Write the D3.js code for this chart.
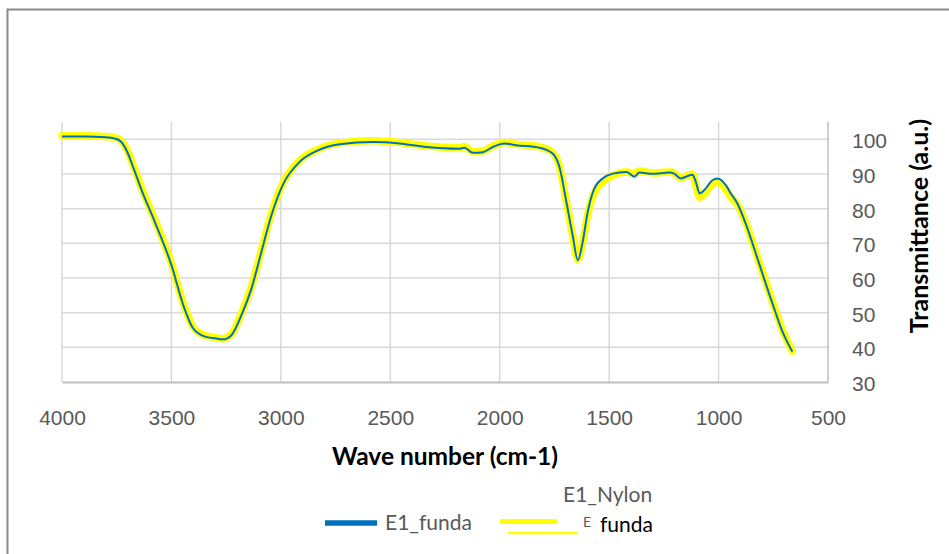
<!DOCTYPE html>
<html>
<head>
<meta charset="utf-8">
<script src="https://cdn.jsdelivr.net/npm/d3@7"></script>
<style>
  body { margin: 0; background: #fff; }
  svg { display: block; font-family: Lato, "Open Sans", sans-serif; }
</style>
</head>
<body>
<script>
// wavenumber (cm-1)
const waveNumbers = [4000, 3900, 3800, 3758, 3730, 3705, 3667, 3636, 3576, 3500, 3446, 3401, 3347, 3300, 3264, 3226, 3180, 3134, 3089, 3043, 2990, 2914, 2838, 2731, 2580, 2458, 2336, 2184, 2161, 2123, 2077, 2031, 1978, 1925, 1819, 1758, 1727, 1697, 1667, 1643, 1621, 1598, 1568, 1530, 1484, 1420, 1385, 1362, 1301, 1225, 1203, 1172, 1150, 1119, 1104, 1086, 1066, 1028, 1005, 967, 944, 914, 876, 815, 754, 708, 663];
const funda = [100.8, 100.8, 100.6, 100.2, 99.3, 96.8, 90.6, 85.3, 76.2, 63.7, 52.2, 45.5, 43.1, 42.6, 42.3, 43.5, 49.3, 57.0, 67.5, 78.1, 87.0, 93.5, 96.6, 98.6, 99.2, 98.8, 97.8, 97.3, 97.6, 96.1, 96.3, 97.8, 98.8, 98.3, 97.6, 95.9, 92.0, 82.5, 72.4, 65.1, 70.4, 79.0, 85.8, 88.7, 90.1, 90.6, 89.2, 90.4, 90.1, 90.4, 90.1, 88.7, 89.2, 89.8, 87.7, 84.4, 85.3, 88.2, 88.7, 86.8, 84.4, 81.5, 75.7, 64.2, 52.7, 44.5, 38.7];
const nylon = [101.0, 101.0, 100.8, 100.5, 99.6, 97.2, 91.2, 85.9, 76.8, 64.2, 52.7, 45.9, 43.4, 42.8, 42.5, 43.8, 49.8, 57.6, 68.0, 78.6, 87.4, 93.9, 96.9, 98.9, 99.6, 99.1, 98.1, 97.6, 97.9, 96.4, 96.6, 98.1, 99.1, 98.6, 97.9, 96.2, 92.2, 82.6, 72.4, 65.4, 70.2, 78.4, 84.6, 87.6, 89.6, 90.6, 90.1, 90.9, 90.3, 90.6, 90.3, 88.8, 89.4, 90.0, 86.8, 83.2, 84.2, 87.0, 87.6, 85.6, 83.3, 81.2, 76.0, 64.6, 53.2, 45.0, 38.9];
const xTicks = [4000, 3500, 3000, 2500, 2000, 1500, 1000, 500];
const yTicks = [30, 40, 50, 60, 70, 80, 90, 100];

const width = 949, height = 554;
const plot = { left: 62, right: 828, top: 122, bottom: 382 };

const svg = d3.select('body').append('svg')
  .attr('width', width)
  .attr('height', height);

// outer chart frame
svg.append('rect')
  .attr('x', 7.5).attr('y', 9.5)
  .attr('width', 960).attr('height', 560)
  .attr('fill', 'none')
  .attr('stroke', '#898989')
  .attr('stroke-width', 2);

const x = d3.scaleLinear().domain([4000, 500]).range([plot.left, plot.right]);
const y = d3.scaleLinear().domain([30, 105]).range([plot.bottom, plot.top]);

// gridlines
svg.append('g').selectAll('line')
  .data(yTicks.slice(1))
  .enter().append('line')
  .attr('x1', plot.left).attr('x2', plot.right)
  .attr('y1', d => y(d)).attr('y2', d => y(d))
  .style('stroke', '#d9d9d9').style('stroke-width', 1.5);
svg.append('g').selectAll('line')
  .data(xTicks.slice(1, -1))
  .enter().append('line')
  .attr('x1', d => x(d)).attr('x2', d => x(d))
  .attr('y1', plot.top).attr('y2', plot.bottom)
  .style('stroke', '#d9d9d9').style('stroke-width', 1.5);

// left & right frame lines of plot area
svg.append('line')
  .attr('x1', plot.left).attr('x2', plot.left)
  .attr('y1', plot.top).attr('y2', plot.bottom)
  .style('stroke', '#d9d9d9').style('stroke-width', 1.5);
svg.append('line')
  .attr('x1', plot.right).attr('x2', plot.right)
  .attr('y1', plot.top).attr('y2', plot.bottom)
  .style('stroke', '#bfbfbf').style('stroke-width', 1.5);

// bottom axis
const xAxis = svg.append('g')
  .attr('transform', `translate(0,${plot.bottom})`)
  .call(d3.axisBottom(x).tickValues(xTicks).tickSize(0).tickPadding(43).tickFormat(d3.format('d')));
xAxis.select('.domain').style('stroke', '#bfbfbf').style('stroke-width', 2);
xAxis.selectAll('text')
  .style('font-size', '21px').style('fill', '#595959').attr('dy', 0);

// right axis (labels only)
const yAxis = svg.append('g')
  .attr('transform', `translate(${plot.right},0)`)
  .call(d3.axisRight(y).tickValues(yTicks).tickSize(0).tickPadding(24));
yAxis.select('.domain').remove();
yAxis.selectAll('text')
  .style('font-size', '21px').style('fill', '#595959').attr('dy', '0.4em');

// axis titles
svg.append('text')
  .attr('x', 445).attr('y', 465)
  .attr('text-anchor', 'middle')
  .style('font-size', '24.5px').style('font-weight', 'bold').style('fill', '#000')
  .text('Wave number (cm-1)');
svg.append('text')
  .attr('transform', 'translate(928,226) rotate(-90)')
  .attr('text-anchor', 'middle')
  .style('font-size', '25px').style('font-weight', 'bold').style('fill', '#000')
  .text('Transmittance (a.u.)');

// series
const line = d3.line()
  .x((d, i) => x(waveNumbers[i]))
  .y(d => y(d))
  .curve(d3.curveMonotoneX);

svg.append('path')
  .datum(nylon)
  .attr('d', line)
  .style('fill', 'none')
  .style('stroke', '#ffff00')
  .style('stroke-width', 7.5)
  .style('stroke-linejoin', 'round')
  .style('stroke-linecap', 'round');

svg.append('path')
  .datum(funda)
  .attr('d', line)
  .style('fill', 'none')
  .style('stroke', '#0070c0')
  .style('stroke-width', 2)
  .style('stroke-linejoin', 'round');

// legend
const legend = svg.append('g');
legend.append('line')
  .attr('x1', 325).attr('x2', 377).attr('y1', 523).attr('y2', 523)
  .style('stroke', '#0070c0').style('stroke-width', 5.5);
legend.append('text')
  .attr('x', 385).attr('y', 530)
  .style('font-size', '21px').style('fill', '#595959')
  .text('E1_funda');
legend.append('line')
  .attr('x1', 500).attr('x2', 557).attr('y1', 521.5).attr('y2', 521.5)
  .style('stroke', '#ffff00').style('stroke-width', 5);
legend.append('line')
  .attr('x1', 508).attr('x2', 578).attr('y1', 533).attr('y2', 533)
  .style('stroke', '#ffff00').style('stroke-width', 2.5);
legend.append('text')
  .attr('x', 563).attr('y', 502)
  .style('font-size', '21px').style('fill', '#595959')
  .text('E1_Nylon');
legend.append('text')
  .attr('x', 583).attr('y', 527)
  .style('font-size', '14px').style('fill', '#595959')
  .text('E');
legend.append('text')
  .attr('x', 600).attr('y', 532)
  .style('font-size', '21px').style('fill', '#000')
  .text('funda');
</script>
</body>
</html>
